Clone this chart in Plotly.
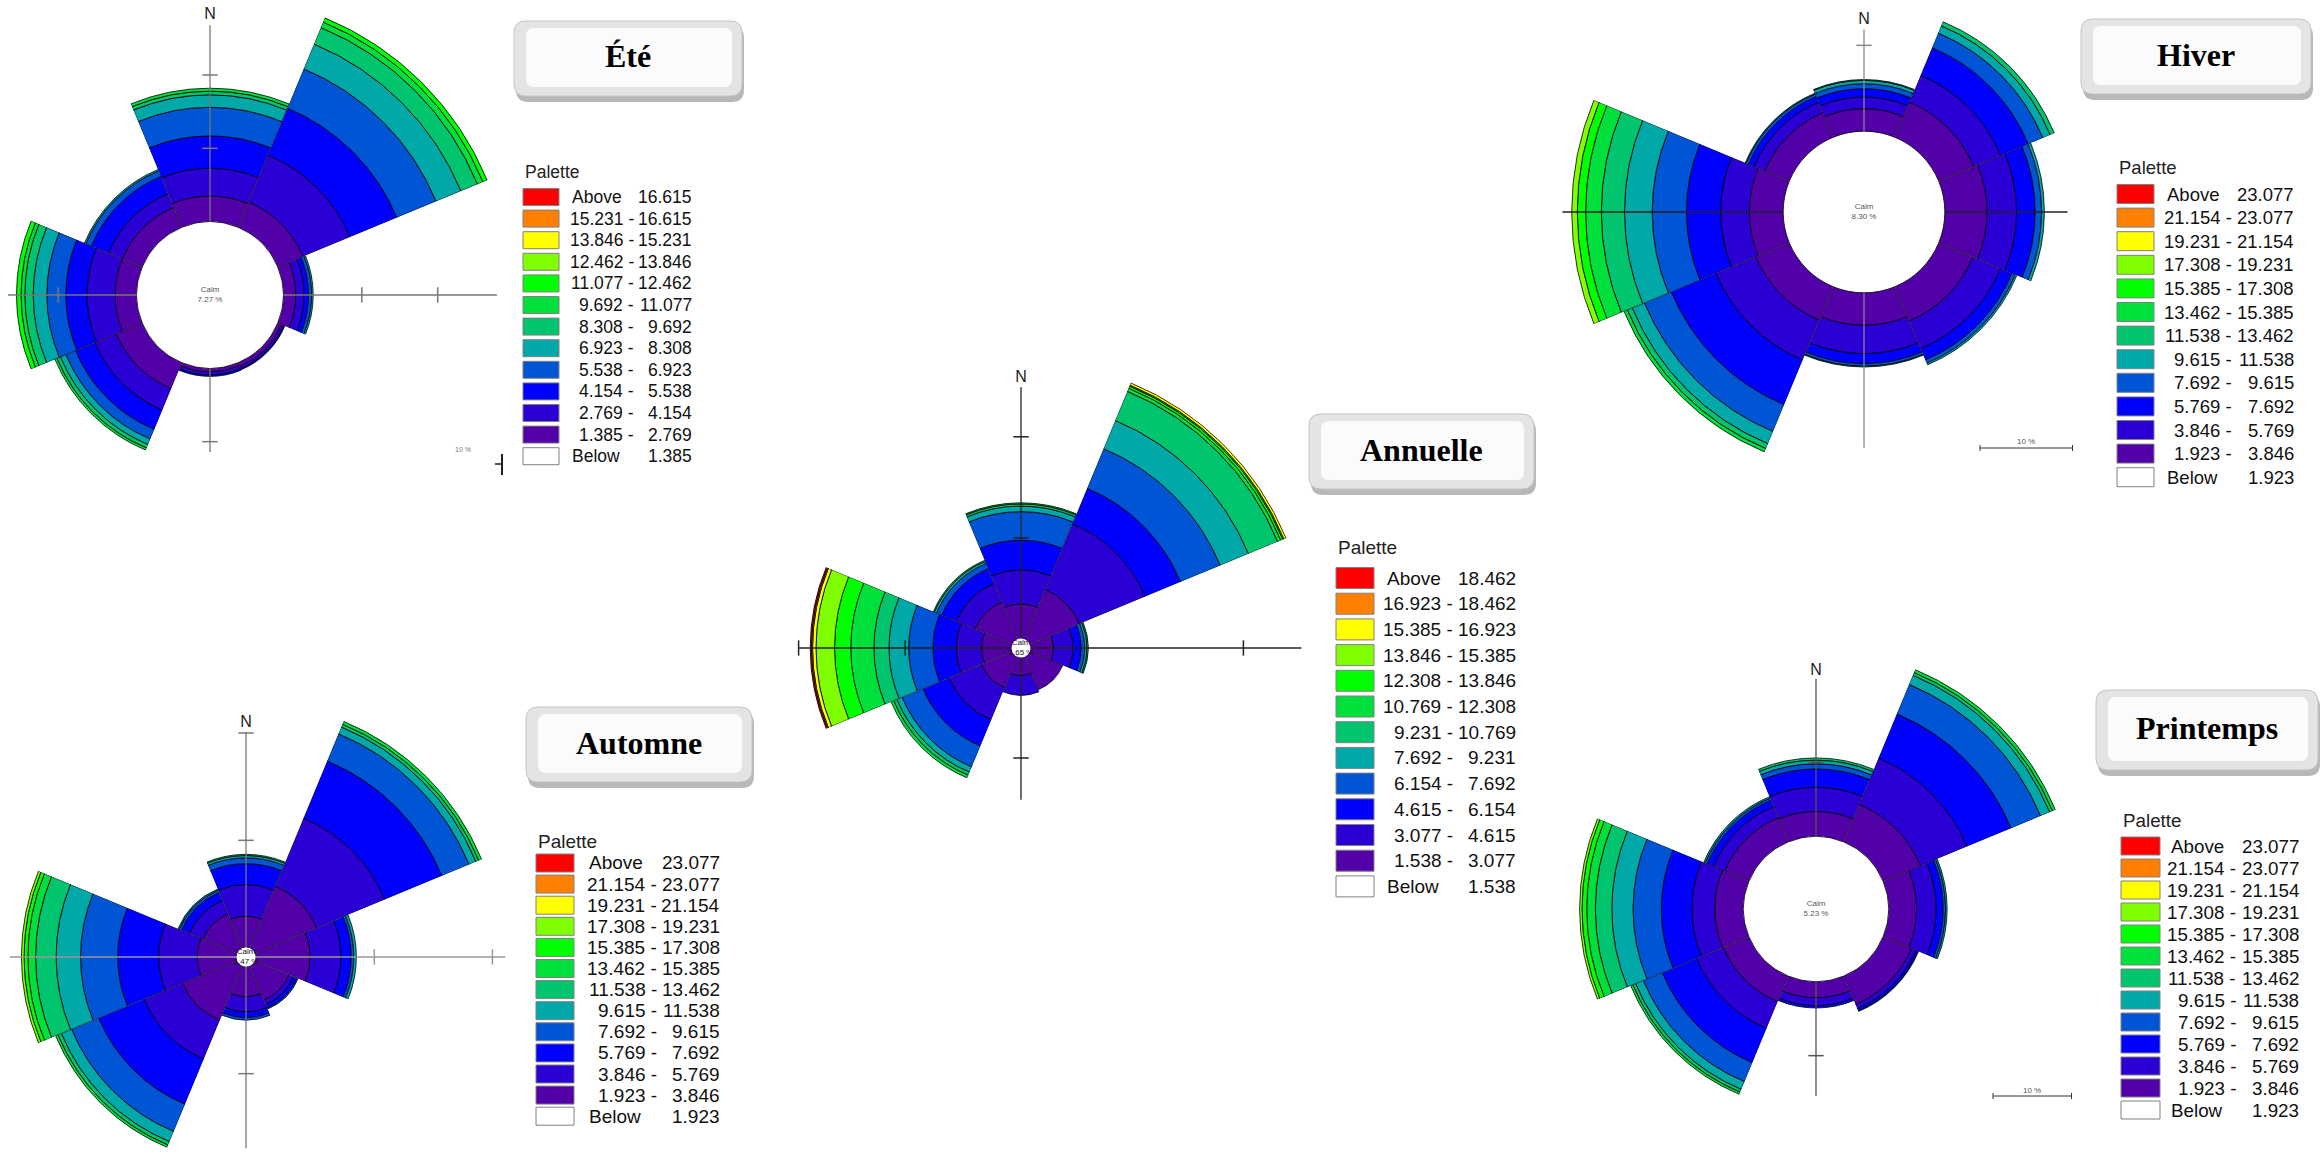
import math
import plotly.graph_objects as go

W, H = 2323, 1156

# ---------------- data ----------------
DIRECTIONS = [0, 45, 90, 135, 180, 225, 270, 315]  # N, NE, E, SE, S, SW, W, NW

# palette from inner (low) to outer (high)
PALETTE = ["#5200A8", "#2A00D4", "#0000FF", "#0055D4", "#00A8A8", "#00C46E",
           "#00E03C", "#00FF00", "#80FF00", "#FFFF00", "#FF8000", "#FF0000"]

# cumulative band radii (%) per direction N..NW
ete_bands = [
    [13.5, 17.3, 21.7, 25.6, 27.3, 27.8, 28.2],
    [13.5, 20.3, 27.1, 32.8, 36.4, 38.8, 39.6, 40.2],
    [11.3, 12.4, 13.0, 13.4, 13.6],
    [10.4, 10.7, 10.85],
    [10.5, 10.9, 11.1],
    [13.6, 16.7, 19.5, 20.9, 21.7, 22.2, 22.5],
    [12.5, 16.2, 19.0, 21.5, 23.3, 24.4, 24.9, 25.5],
    [12.7, 14.7, 17.2, 18.0, 18.2],
]
annuelle_bands = [
    [4.0, 7.1, 9.8, 12.4, 12.9, 13.1, 13.2],
    [5.6, 11.9, 15.3, 19.1, 21.8, 24.6, 24.9, 25.1, 25.2, 25.4],
    [2.8, 4.5, 5.2, 5.5, 5.7, 5.8],
    [4.0],
    [2.5, 4.3],
    [3.8, 6.9, 9.4, 11.4, 11.9, 12.2, 12.45],
    [3.4, 5.6, 7.6, 9.7, 11.4, 12.7, 14.7, 16.1, 17.7, 18.0, 18.1, 18.2],
    [4.4, 6.2, 7.6, 8.1, 8.3, 8.4],
]
hiver_bands = [
    [12.4, 13.8, 14.8, 15.4, 15.8, 15.9],
    [13.5, 16.8, 20.2, 22.0, 22.9, 23.4],
    [13.3, 16.5, 18.5, 19.2, 19.5],
    [13.4, 16.8, 18.2, 18.6, 18.8],
    [13.6, 17.0, 18.2, 18.5, 18.6],
    [13.3, 18.2, 23.7, 27.0, 28.5, 29.1, 29.5],
    [12.4, 15.5, 19.2, 22.9, 25.9, 28.4, 30.1, 31.0, 31.6],
    [12.2, 13.5, 14.2, 14.5, 14.6],
]
automne_bands = [
    [3.5, 6.2, 8.0, 8.5, 8.7, 8.8],
    [6.25, 12.25, 17.3, 19.7, 20.3, 20.55, 20.8],
    [5.0, 7.4, 8.2, 8.4, 8.6],
    [3.8, 4.2, 4.5, 4.6],
    [3.4, 4.7, 5.2, 5.4],
    [5.6, 9.0, 13.0, 15.4, 16.3, 16.6, 16.8],
    [3.8, 6.8, 10.0, 12.9, 14.8, 16.4, 17.0, 17.3, 17.5],
    [3.8, 5.0, 5.7, 5.9, 6.0],
]
printemps_bands = [
    [13.3, 16.6, 19.1, 19.8, 20.3, 20.6],
    [14.9, 21.5, 27.8, 32.0, 33.3, 33.7, 34.1],
    [12.8, 15.3, 16.2, 16.5, 16.7],
    [13.6, 14.2, 14.5, 14.6],
    [12.1, 13.2, 13.5],
    [13.2, 17.0, 21.9, 24.6, 25.7, 26.1, 26.4],
    [12.9, 15.8, 19.7, 23.3, 26.0, 28.1, 29.2, 29.8, 30.1],
    [13.0, 14.6, 15.5, 15.8, 16.0],
]

# calm circle radius (%) and calm labels
calm_radius = {"ete": 10.0, "annuelle": 0.75, "hiver": 9.7, "automne": 0.85, "printemps": 9.9}
calm_text = {"ete": "7.27 %", "annuelle": "1.65 %", "hiver": "8.30 %", "automne": "1.47 %", "printemps": "5.23 %"}

# crosshair extents (%) for N, E, S, W (None = not drawn) and N-label radius
axis_ends = {
    "ete": [36.8, 37.8, 21.4, 26.6],
    "annuelle": [23.7, 24.2, 13.8, 19.2],
    "hiver": [21.9, 22.0, 28.3, 32.6],
    "automne": [19.3, 20.2, 16.4, 18.4],
    "printemps": [31.4, None, 25.5, None],
}
north_label_r = {"ete": 38.2, "annuelle": 24.5, "hiver": 23.0, "automne": 20.1, "printemps": 32.4}
# tick marks (%) on crosshair: N, E, S, W
axis_ticks = {
    "ete": [[20, 30], [20, 30], [20], [20]],
    "annuelle": [[10, 19.2], [19.2], [10], [10, 19.2]],
    "hiver": [[20], [], [], []],
    "automne": [[10, 19.2], [10, 19.2], [10], []],
    "printemps": [[20], [], [20], []],
}

# legend thresholds
ete_levels = ["1.385", "2.769", "4.154", "5.538", "6.923", "8.308", "9.692",
              "11.077", "12.462", "13.846", "15.231", "16.615"]
annuelle_levels = ["1.538", "3.077", "4.615", "6.154", "7.692", "9.231", "10.769",
                   "12.308", "13.846", "15.385", "16.923", "18.462"]
season_levels = ["1.923", "3.846", "5.769", "7.692", "9.615", "11.538", "13.462",
                 "15.385", "17.308", "19.231", "21.154", "23.077"]

titles = {"ete": "Été", "annuelle": "Annuelle", "hiver": "Hiver",
          "automne": "Automne", "printemps": "Printemps"}

# ---------------- layout constants ----------------
ROSES = {
    # center px, vertical px per %, horizontal stretch of the original picture
    "ete": dict(c=(210, 295), s=22 / 3, kx=1.035, bands=ete_bands, vcol="#777777", hcol="#777777"),
    "annuelle": dict(c=(1021, 648), s=33 / 3, kx=1.053, bands=annuelle_bands, vcol="#222222", hcol="#222222"),
    "hiver": dict(c=(1864, 212), s=25 / 3, kx=1.11, bands=hiver_bands, vcol="#888888", hcol="#222222"),
    "automne": dict(c=(246, 957), s=35 / 3, kx=1.10, bands=automne_bands, vcol="#777777", hcol="#999999"),
    "printemps": dict(c=(1816, 909), s=22 / 3, kx=1.071, bands=printemps_bands, vcol="#555555", hcol="#555555"),
}

LEGENDS = {
    "ete": dict(levels=ete_levels, bx=523, bw=36, bh=17, row0=197, dy=21.6, ty=172, tx=570, rx=694, fs=17.5),
    "annuelle": dict(levels=annuelle_levels, bx=1336, bw=38, bh=21, row0=578, dy=25.7, ty=548, tx=1385, rx=1518, fs=19),
    "hiver": dict(levels=season_levels, bx=2117, bw=37, bh=19, row0=194, dy=23.6, ty=167, tx=2165, rx=2296, fs=18.5),
    "automne": dict(levels=season_levels, bx=536, bw=38, bh=18, row0=863, dy=21.1, ty=841, tx=587, rx=722, fs=19),
    "printemps": dict(levels=season_levels, bx=2121, bw=39, bh=18, row0=846, dy=22.0, ty=820, tx=2169, rx=2301, fs=18.8),
}

TITLE_BOXES = {
    "ete": (514, 21, 742, 96),
    "annuelle": (1309, 414, 1534, 489),
    "hiver": (2081, 19, 2311, 94),
    "automne": (526, 707, 752, 782),
    "printemps": (2096, 690, 2318, 770),
}

SCALE_BARS = {"hiver": (1980, 448), "printemps": (1993, 1096)}

SANS = "Liberation Sans, Arial, sans-serif"
SERIF = "Liberation Serif, Times New Roman, serif"


def px(x):
    return x / W


def py(y):
    return 1 - y / H


def sector_bbox(s0, s1):
    arc = s1 - s0
    a0 = s0 % 360
    a1 = a0 + arc
    ax0, ay0 = math.cos(math.radians(a0)), math.sin(math.radians(a0))
    ax1, ay1 = math.cos(math.radians(a1)), math.sin(math.radians(a1))
    if (a0 <= 90 and a1 >= 90) or (a0 > 90 and a1 >= 450):
        y1 = 1
    elif ay0 <= 0 and ay1 <= 0:
        y1 = 0
    else:
        y1 = max(ay0, ay1)
    if (a0 <= 180 and a1 >= 180) or (a0 > 180 and a1 >= 540):
        x0 = -1
    elif ax0 >= 0 and ax1 >= 0:
        x0 = 0
    else:
        x0 = min(ax0, ax1)
    if (a0 <= 270 and a1 >= 270) or (a0 > 270 and a1 >= 630):
        y0 = -1
    elif ay0 >= 0 and ay1 >= 0:
        y0 = 0
    else:
        y0 = min(ay0, ay1)
    if a1 >= 360:
        x1 = 1
    elif ax0 <= 0 and ax1 <= 0:
        x1 = 0
    else:
        x1 = max(ax0, ax1)
    return x0, y0, x1, y1


def dir_scale(rose, bearing):
    b = math.radians(bearing)
    return rose["s"] * math.sqrt((rose["kx"] * math.sin(b)) ** 2 + math.cos(b) ** 2)


fig = go.Figure()
polar_layouts = {}
counter = [9]  # two-digit subplot ids keep drawing order stable


def new_polar(cx, cy, need_px, scale, sector=(0, 360)):
    counter[0] += 1
    name = "polar%d" % counter[0]
    bx0, by0, bx1, by1 = sector_bbox(*sector)
    for pad in (8, 5, 3, 1, 0):
        R = need_px + pad
        x0, x1 = cx + R * bx0, cx + R * bx1
        ytop, ybot = cy - R * by1, cy - R * by0
        if x0 >= 0 and x1 <= W and ytop >= 0 and ybot <= H:
            break
    dom_x = [max(0.0, px(x0)), min(1.0, px(x1))]
    dom_y = [max(0.0, py(ybot)), min(1.0, py(ytop))]
    polar_layouts[name] = dict(
        domain=dict(x=dom_x, y=dom_y),
        sector=list(sector),
        bgcolor="rgba(0,0,0,0)",
        barmode="overlay",
        radialaxis=dict(visible=False, range=[0, R / scale], showgrid=False, showline=False),
        angularaxis=dict(visible=False, rotation=90, direction="clockwise", showgrid=False, showline=False),
    )
    return name


# ---------------- bars (one wedge subplot per direction) ----------------
for key, rose in ROSES.items():
    cx, cy = rose["c"]
    for bearing, bands in zip(DIRECTIONS, rose["bands"]):
        sc = dir_scale(rose, bearing)
        # calm circle drawn round: same pixel radius in every wedge
        hole = calm_radius[key] * rose["s"] / sc
        mid = 90 - bearing
        name = new_polar(cx, cy, bands[-1] * sc, sc, (mid - 22.5, mid + 22.5))
        bases, lengths, cols = [], [], []
        prev = hole
        for i, b in enumerate(bands):
            bases.append(prev)
            lengths.append(b - prev)
            cols.append(PALETTE[i])
            prev = b
        fig.add_trace(go.Barpolar(
            r=lengths, theta=[bearing] * len(bands), base=bases, width=[45] * len(bands),
            marker=dict(color=cols, line=dict(color="#000000", width=0.8)),
            subplot=name, showlegend=False, hoverinfo="skip"))

# ---------------- crosshair arms, ticks, N label ----------------
for key, rose in ROSES.items():
    cx, cy = rose["c"]
    for idx, (bearing, end) in enumerate(zip([0, 90, 180, 270], axis_ends[key])):
        if end is None:
            continue
        sc = dir_scale(rose, bearing)
        hole = calm_radius[key] * rose["s"] / sc
        need = end
        if bearing == 0:
            need = max(end, north_label_r[key] + 1.2)
        mid = 90 - bearing
        name = new_polar(cx, cy, need * sc, sc, (mid - 12, mid + 12))
        col = rose["vcol"] if bearing in (0, 180) else rose["hcol"]
        fig.add_trace(go.Scatterpolar(
            r=[hole, end], theta=[bearing, bearing], mode="lines",
            line=dict(color=col, width=1.3), cliponaxis=False,
            subplot=name, showlegend=False, hoverinfo="skip"))
        tks = axis_ticks[key][idx]
        if tks:
            fig.add_trace(go.Scatterpolar(
                r=tks, theta=[bearing] * len(tks), mode="markers",
                marker=dict(symbol="line-ew" if bearing in (0, 180) else "line-ns", size=11,
                            line=dict(color=col, width=1.5)),
                cliponaxis=False, subplot=name, showlegend=False, hoverinfo="skip"))
        if bearing == 0:
            fig.add_trace(go.Scatterpolar(
                r=[north_label_r[key]], theta=[0], mode="text", text=["N"],
                textfont=dict(family=SANS, size=16, color="#222222"), cliponaxis=False,
                subplot=name, showlegend=False, hoverinfo="skip"))

# ---------------- calm labels ----------------
for key, rose in ROSES.items():
    cx, cy = rose["c"]
    hole = calm_radius[key]
    sc = rose["s"]
    name = new_polar(cx, cy, hole * sc + 30, sc)
    small = hole < 3
    if small:
        fig.add_trace(go.Scatterpolar(
            r=[0], theta=[0], mode="markers",
            marker=dict(size=19, color="#FFFFFF", line=dict(color="#FFFFFF", width=0)),
            cliponaxis=False, subplot=name, showlegend=False, hoverinfo="skip"))
    fig.add_trace(go.Scatterpolar(
        r=[0], theta=[0], mode="text", text=["Calm<br>" + calm_text[key]],
        textfont=dict(family=SANS, size=8, color="#111111" if small else "#555555"),
        cliponaxis=False, subplot=name, showlegend=False, hoverinfo="skip"))

fig.update_layout(**polar_layouts)

# ---------------- legends ----------------
shapes = []
annotations = []
rows_colors = PALETTE[::-1] + ["#FFFFFF"]
for key, lg in LEGENDS.items():
    lev = lg["levels"]
    fs = lg["fs"]
    annotations.append(dict(x=px(lg["bx"]), y=py(lg["ty"]), xref="paper", yref="paper",
                            text="Palette", showarrow=False, xanchor="left", yanchor="middle",
                            font=dict(family=SANS, size=fs, color="#222222")))
    col_x = lg["rx"] - fs * 3.336
    for i in range(13):
        yc = lg["row0"] + i * lg["dy"]
        shapes.append(dict(type="rect", xref="paper", yref="paper",
                           x0=px(lg["bx"]), x1=px(lg["bx"] + lg["bw"]),
                           y0=py(yc + lg["bh"] / 2), y1=py(yc - lg["bh"] / 2),
                           fillcolor=rows_colors[i], line=dict(color="#808080", width=1)))
        if i == 0 or i == 12:
            left = "Above" if i == 0 else "Below"
            num = lev[-1] if i == 0 else lev[0]
            annotations.append(dict(x=px(lg["tx"]), y=py(yc), xref="paper", yref="paper", text=left,
                                    showarrow=False, xanchor="left", yanchor="middle",
                                    font=dict(family=SANS, size=fs, color="#111111")))
        else:
            lo, hi = lev[11 - i], lev[12 - i]
            annotations.append(dict(x=px(col_x), y=py(yc), xref="paper", yref="paper", text=lo + " -",
                                    showarrow=False, xanchor="right", yanchor="middle",
                                    font=dict(family=SANS, size=fs, color="#111111")))
            num = hi
        annotations.append(dict(x=px(lg["rx"]), y=py(yc), xref="paper", yref="paper", text=num,
                                showarrow=False, xanchor="right", yanchor="middle",
                                font=dict(family=SANS, size=fs, color="#111111")))


# ---------------- title boxes ----------------
def rounded_path(x0, y0, x1, y1, r):
    def pts(x, y):
        return "%.6f,%.6f" % (px(x), py(y))
    return ("M " + pts(x0 + r, y0) + " L " + pts(x1 - r, y0) + " Q " + pts(x1, y0) + " " + pts(x1, y0 + r) +
            " L " + pts(x1, y1 - r) + " Q " + pts(x1, y1) + " " + pts(x1 - r, y1) +
            " L " + pts(x0 + r, y1) + " Q " + pts(x0, y1) + " " + pts(x0, y1 - r) +
            " L " + pts(x0, y0 + r) + " Q " + pts(x0, y0) + " " + pts(x0 + r, y0) + " Z")


for key, (x0, y0, x1, y1) in TITLE_BOXES.items():
    shapes.append(dict(type="path", xref="paper", yref="paper", path=rounded_path(x0 + 2, y0 + 5, x1 + 2, y1 + 6, 12),
                       fillcolor="rgba(0,0,0,0.28)", line=dict(width=0)))
    shapes.append(dict(type="path", xref="paper", yref="paper", path=rounded_path(x0, y0, x1, y1, 12),
                       fillcolor="#e4e4e4", line=dict(color="#c4c4c4", width=1)))
    shapes.append(dict(type="path", xref="paper", yref="paper", path=rounded_path(x0 + 12, y0 + 7, x1 - 10, y1 - 9, 8),
                       fillcolor="#fbfbfb", line=dict(width=0)))
    annotations.append(dict(x=px((x0 + x1) / 2), y=py((y0 + y1) / 2 - 2), xref="paper", yref="paper",
                            text="<b>" + titles[key] + "</b>", showarrow=False, xanchor="center", yanchor="middle",
                            font=dict(family=SERIF, size=32, color="#000000")))

# ---------------- scale bars ----------------
for key, (sx, sy) in SCALE_BARS.items():
    L = 10 * ROSES[key]["s"] * ROSES[key]["kx"]
    shapes.append(dict(type="line", xref="paper", yref="paper", x0=px(sx), x1=px(sx + L), y0=py(sy), y1=py(sy),
                       line=dict(color="#333333", width=1)))
    for ex in (sx, sx + L):
        shapes.append(dict(type="line", xref="paper", yref="paper", x0=px(ex), x1=px(ex), y0=py(sy - 3), y1=py(sy + 3),
                           line=dict(color="#333333", width=1)))
    annotations.append(dict(x=px(sx + L / 2), y=py(sy - 6), xref="paper", yref="paper", text="10 %",
                            showarrow=False, xanchor="center", yanchor="middle",
                            font=dict(family=SANS, size=8, color="#555555")))
# partly hidden scale bar of Été
annotations.append(dict(x=px(463), y=py(449), xref="paper", yref="paper", text="10 %", showarrow=False,
                        xanchor="center", yanchor="middle", font=dict(family=SANS, size=7, color="#777777")))
shapes.append(dict(type="line", xref="paper", yref="paper", x0=px(502), x1=px(502), y0=py(454), y1=py(475),
                   line=dict(color="#222222", width=2)))
shapes.append(dict(type="line", xref="paper", yref="paper", x0=px(495), x1=px(502), y0=py(464), y1=py(464),
                   line=dict(color="#222222", width=1.5)))

fig.update_layout(
    width=W, height=H, margin=dict(l=0, r=0, t=0, b=0),
    paper_bgcolor="#FFFFFF", plot_bgcolor="#FFFFFF", showlegend=False,
    shapes=shapes, annotations=annotations,
)

fig.write_html("out.html", config={"displayModeBar": False})
